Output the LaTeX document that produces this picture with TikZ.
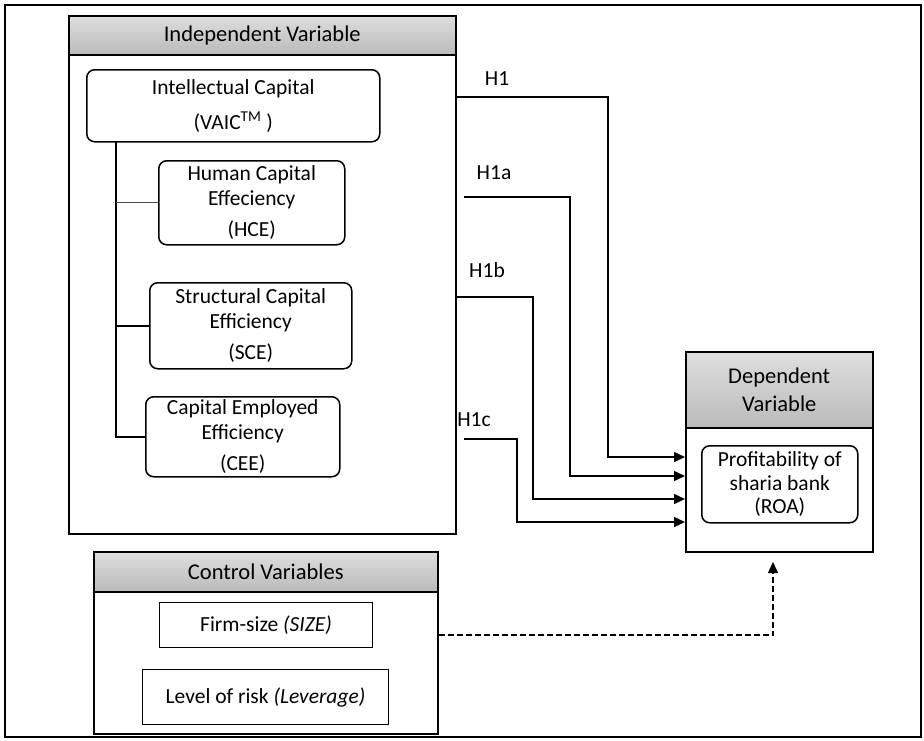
\documentclass[tikz,border=0pt]{standalone}
\usepackage{fontspec}
\setmainfont{Carlito}
\usetikzlibrary{arrows.meta, positioning}

\begin{document}
\begin{tikzpicture}[
x=1pt, y=-1pt,
font=\fontsize{21.5}{25}\selectfont,
group/.style={draw, line width=1.5pt, inner sep=0pt},
head/.style={draw, line width=1.5pt, top color=black!13, bottom color=black!27,
inner sep=0pt, align=center, font=\fontsize{22.5}{28}\selectfont},
var/.style={draw, line width=1.5pt, rounded corners=8pt, inner sep=0pt, align=center},
ctrlbox/.style={draw, line width=1pt, inner sep=0pt},
arrow/.style={-{Triangle[length=11pt, width=10pt]}, line width=1.5pt},
dasharrow/.style={arrow, dash pattern=on 6pt off 3pt}
]

\useasboundingbox (0,0) rectangle (924,740);
\draw[line width=1.2pt] (5,5) rectangle (921,737);

% independent variable
\node[group, minimum width=387pt, minimum height=518pt, anchor=north west] (indep) at (68,15) {};
\node[head, minimum width=387pt, minimum height=39pt, anchor=north] (indephead) at (indep.north) {Independent Variable};

\node[var, minimum width=293pt, minimum height=72pt, anchor=north west] (ic) at (86,69)
{Intellectual Capital\\[10pt](VAIC\textsuperscript{TM} )};
\node[var, minimum width=186pt, minimum height=84pt, anchor=north west] (hce) at (158,160)
{Human Capital\\Effeciency\\[6pt](HCE)};
\node[var, minimum width=202pt, minimum height=86pt, anchor=north west] (sce) at (149,282)
{Structural Capital\\Efficiency\\[6pt](SCE)};
\node[var, minimum width=194pt, minimum height=80pt, anchor=north west] (cee) at (145,396)
{Capital Employed\\Efficiency\\[6pt](CEE)};

\coordinate (trunk) at (116,141);
\draw[line width=1.5pt] (trunk) |- (cee.west);
\draw[line width=1.5pt] (sce.west) -- (sce.west -| trunk);
\draw[line width=0.8pt, black!70] (hce.west) -- (hce.west -| trunk);

% dependent variable
\node[group, minimum width=187pt, minimum height=200pt, anchor=north west] (dep) at (685,351) {};
\node[head, minimum width=187pt, minimum height=76pt, anchor=north] (dephead) at (dep.north) {Dependent\\Variable};
\node[var, minimum width=156pt, minimum height=77pt, anchor=north west, font=\fontsize{21.5}{23.5}\selectfont] (roa) at (701,445)
{Profitability of\\sharia bank\\(ROA)};

% control variables
\node[group, minimum width=344pt, minimum height=182pt, anchor=north west] (ctrl) at (93,551) {};
\node[head, minimum width=344pt, minimum height=40pt, anchor=north] (ctrlhead) at (ctrl.north) {Control Variables};
\node[ctrlbox, minimum width=213pt, minimum height=45pt, anchor=north west] (size) at (159,602) {Firm-size \textit{(SIZE)}};
\node[ctrlbox, minimum width=246pt, minimum height=55pt, anchor=north west] (lev) at (142,669) {Level of risk \textit{(Leverage)}};

% hypotheses
\node (h1) at (497,79) {H1};
\node (h1a) at (494,173) {H1a};
\node (h1b) at (487,270) {H1b};
\node (h1c) at (474,420) {H1c};

\draw[arrow] (indep.east |- 0,97) -| (608,457) -- (dep.west |- 0,457);
\draw[arrow] ([xshift=7pt]indep.east |- 0,197) -| (570,476) -- (dep.west |- 0,476);
\draw[arrow] (indep.east |- 0,297) -| (533,499) -- (dep.west |- 0,499);
\draw[arrow] ([xshift=7pt]indep.east |- 0,439) -| (517,522) -- (dep.west |- 0,522);

\coordinate (ctrlin) at (773,562);
\draw[dasharrow] (ctrl.east |- 0,635) -| (ctrlin);

\end{tikzpicture}
\end{document}
